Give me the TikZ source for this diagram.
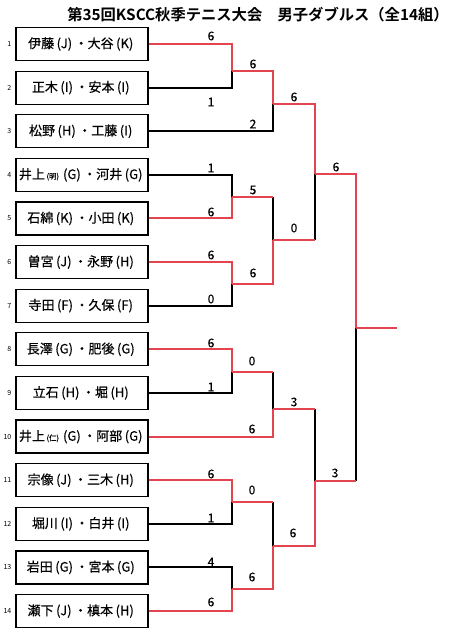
\documentclass[tikz,border=0pt]{standalone}
\usepackage{fontspec}
\setmainfont{Noto Sans CJK JP}[BoldFont={Noto Sans CJK JP Bold}]
\definecolor{winred}{RGB}{228,68,80}
\def\pp#1{\kern2.5pt(#1)\kern2.5pt}
\def\smallpar#1{{\fontsize{7.5}{8}\selectfont\kern1.5pt(#1)\kern1.5pt}}

\begin{document}
\begin{tikzpicture}[x=1pt,y=-1pt,
  pair/.style={draw,line width=1.2pt,minimum width=132pt,minimum height=33pt,inner sep=0pt,
    font=\fontsize{13}{14}\selectfont\addfontfeature{FakeBold=0.4}},
  num/.style={anchor=east,inner sep=0pt,font=\fontsize{7}{8}\selectfont},
  score/.style={inner sep=0pt,font=\fontsize{12}{13}\selectfont\addfontfeature{FakeBold=0.4}},
  win/.style={winred,line width=2pt},
  lose/.style={black,line width=2pt}]
\useasboundingbox (0,0) rectangle (454,640);
%\draw[help lines,step=20] (0,0) grid (454,640);

\node[font=\bfseries\fontsize{15.3}{17}\selectfont] (title) at (258,15)
  {第35回KSCC秋季テニス大会　男子ダブルス（全14組）};

% pairs
\foreach \i/\t in {1/{伊藤\pp{J}・大谷\pp{K}},2/{正木\pp{I}・安本\pp{I}},3/{松野\pp{H}・工藤\pp{I}},
  4/{井上\smallpar{明}\pp{G}・河井\pp{G}},5/{石綿\pp{K}・小田\pp{K}},6/{曽宮\pp{J}・永野\pp{H}},
  7/{寺田\pp{F}・久保\pp{F}},8/{長澤\pp{G}・肥後\pp{G}},9/{立石\pp{H}・堀\pp{H}},
  10/{井上\smallpar{仁}\pp{G}・阿部\pp{G}},11/{宗像\pp{J}・三木\pp{H}},12/{堀川\pp{I}・白井\pp{I}},
  13/{岩田\pp{G}・宮本\pp{G}},14/{瀬下\pp{J}・槙本\pp{H}}}{
  \pgfmathsetmacro\y{44+43.62*(\i-1)}
  \node[pair] (p\i) at (82,\y) {\t};
  \node[num] (n\i) at (11.5,\y) {\i};
}

% junctions
\coordinate (a1) at (232,71);
\coordinate (a2) at (232,197);
\coordinate (a3) at (232,284);
\coordinate (a4) at (232,372);
\coordinate (a5) at (232,502);
\coordinate (a6) at (232,589);
\coordinate (b1) at (273,104);
\coordinate (b2) at (273,240);
\coordinate (b3) at (273,409);
\coordinate (b4) at (273,546);
\coordinate (c1) at (315,174);
\coordinate (c2) at (315,481);
\coordinate (d1) at (356,328);
\coordinate (champ) at (397,328);

% losing sides
\draw[lose] (p2.east) -| (a1);
\draw[lose] (p3.east) -| (b1);
\draw[lose] (p4.east) -| (a2);
\draw[lose] (p7.east) -| (a3);
\draw[lose] (p9.east) -| (a4);
\draw[lose] (p12.east) -| (a5);
\draw[lose] (p13.east) -| (a6);
\draw[lose] (a2 -| b2) -- (b2);
\draw[lose] (a4 -| b3) -- (b3);
\draw[lose] (a5 -| b4) -- (b4);
\draw[lose] (b2 -| c1) -- (c1);
\draw[lose] (b3 -| c2) -- (c2);
\draw[lose] (c2 -| d1) -- (d1);

% winning sides
\draw[win] (p1.east) -| (a1);
\draw[win] (p5.east) -| (a2);
\draw[win] (p6.east) -| (a3);
\draw[win] (p8.east) -| (a4);
\draw[win] (p10.east) -| (b3);
\draw[win] (p11.east) -| (a5);
\draw[win] (p14.east) -| (a6);
\draw[win] (a1) -| (b1);
\draw[win] (a3) -| (b2);
\draw[win] (a6) -| (b4);
\draw[win] (a2) -- (a2 -| b2);
\draw[win] (a4) -- (a4 -| b3);
\draw[win] (a5) -- (a5 -| b4);
\draw[win] (b1) -| (c1);
\draw[win] (b4) -| (c2);
\draw[win] (b2) -- (b2 -| c1);
\draw[win] (b3) -- (b3 -| c2);
\draw[win] (c1) -| (d1);
\draw[win] (c2) -- (c2 -| d1);
\draw[win] (d1) -- (champ);

% scores
\node[score] (s1) at (211,36) {6};
\node[score] (s2) at (211,102) {1};
\node[score] (s3) at (253,124) {2};
\node[score] (s4) at (211,168) {1};
\node[score] (s5) at (211,212) {6};
\node[score] (s6) at (211,255) {6};
\node[score] (s7) at (211,299) {0};
\node[score] (s8) at (211,343) {6};
\node[score] (s9) at (211,387) {1};
\node[score] (s10) at (252,429) {6};
\node[score] (s11) at (211,474) {6};
\node[score] (s12) at (211,518) {1};
\node[score] (s13) at (211,562) {4};
\node[score] (s14) at (211,602) {6};
\node[score] (sa1) at (253,64) {6};
\node[score] (sa2) at (253,190) {5};
\node[score] (sa3) at (253,273) {6};
\node[score] (sa4) at (252,361) {0};
\node[score] (sa5) at (252,490) {0};
\node[score] (sa6) at (252,577) {6};
\node[score] (sb1) at (294,97) {6};
\node[score] (sb2) at (294,228) {0};
\node[score] (sb3) at (294,402) {3};
\node[score] (sb4) at (293,533) {6};
\node[score] (sc1) at (336,167) {6};
\node[score] (sc2) at (335,473) {3};
\end{tikzpicture}
\end{document}
